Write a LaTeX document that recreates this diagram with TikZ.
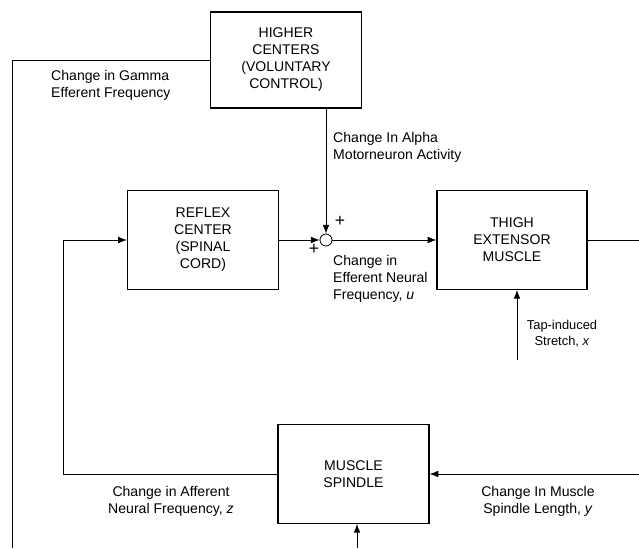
\documentclass[tikz,border=0pt]{standalone}
\usepackage{fontspec}
\setmainfont{Liberation Sans}
\usepackage{tikz}
\usetikzlibrary{arrows.meta}
\tikzset{
    block/.style={rectangle, draw, line width=1pt, minimum width=4.53cm,
    	minimum height=2.96cm, align=center, font=\fontsize{12}{14.5}\selectfont}
}
\tikzset{
    lbl/.style={inner sep=0pt, font=\fontsize{12}{14.5}\selectfont},
    sig/.style={line width=0.7pt},
    every edge/.append style={line width=0.7pt}
}

\begin{document}
\begin{tikzpicture}[x=0.03cm, y=-0.03cm, >={Latex[length=2.6mm, width=2mm]}]
	\useasboundingbox (0,0) rectangle (639,548);
	\node (hc) [block, minimum height=2.88cm] at (286, 60) {HIGHER\\CENTERS\\(VOLUNTARY\\CONTROL)};
	\node (rc) [block] at (203, 240) {REFLEX\\CENTER\\(SPINAL\\CORD)};
	\node (tm) [block, minimum width=4.5cm] at (512, 240) {THIGH\\EXTENSOR\\MUSCLE};
	\node (ms) [block] at (353.5, 474) {MUSCLE\\SPINDLE};
	\node (sum) [circle, draw, line width=0.7pt, minimum size=0.36cm, inner sep=0pt] at (326, 240) {};
	
	\coordinate (g1) at (12, 60); \coordinate (g2) at (12, 548);
	\coordinate (r1) at (63, 240); \coordinate (r2) at (63, 474);
	\coordinate (tr) at (639, 240); \coordinate (sp) at (639, 474);
	\coordinate (tap) at (517, 360); \coordinate (msb) at (357, 548);
	
	\draw[sig] (hc.west) -- (g1) -- (g2);
	\draw[sig,->] (hc.south -| sum) -- (sum.north);
	\draw (rc.east) edge[->] (sum.west); \draw (sum.east) edge[->] (tm.west);
	\draw (tm.east) edge (tr);
	\draw (tap) edge[->] (tap |- tm.south);
	\draw (sp) edge[->] (ms.east);
	\draw (msb) edge[->] (msb |- ms.south);
	\draw[sig,->] (ms.west) -- (r2) -- (r1) -- (rc.west);
	
	\node (pa) [lbl, font=\fontsize{15}{15}\selectfont] at (340, 221) {+};
	\node (pr) [lbl, font=\fontsize{15}{15}\selectfont] at (314, 249) {+};
	\node (gam) [lbl, anchor=north west, align=left] at (51, 70) {Change in Gamma\\Efferent Frequency};
	\node (alp) [lbl, anchor=north west, align=left] at (333, 132) {Change In Alpha\\Motorneuron Activity};
	\node (eff) [lbl, anchor=north west, align=left] at (333, 255) {Change in\\Efferent Neural\\Frequency, \textit{u}};
	\node (tapl) [lbl, anchor=north, align=center, font=\fontsize{11}{14}\selectfont] at (562, 320) {Tap-induced\\Stretch, \textit{x}};
	\node (aff) [lbl, anchor=north, align=center] at (171, 486) {Change in Afferent\\Neural Frequency, \textit{z}};
	\node (len) [lbl, anchor=north, align=center] at (538, 486) {Change In Muscle\\Spindle Length, \textit{y}};
\end{tikzpicture}
\end{document}
